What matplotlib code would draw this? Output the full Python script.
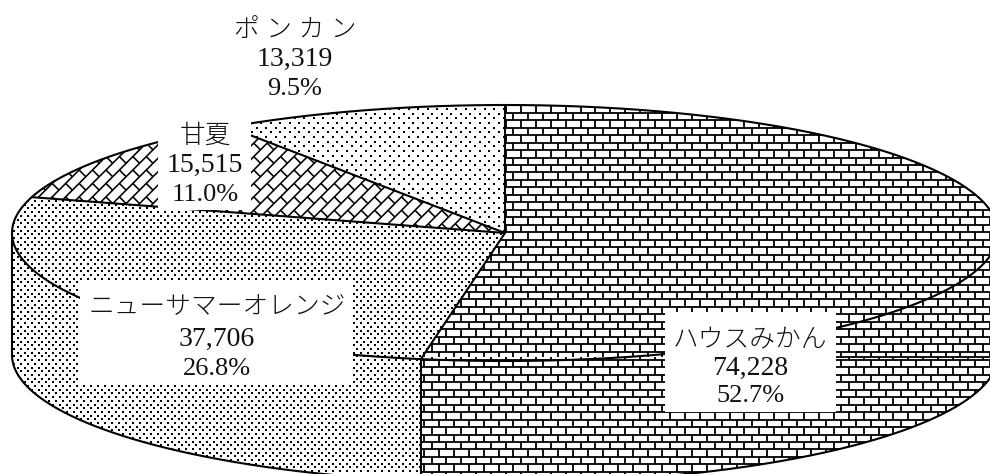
import numpy as np
import matplotlib
matplotlib.use("Agg")
import matplotlib.pyplot as plt
from matplotlib.patches import Polygon, Rectangle
from matplotlib.collections import LineCollection

# ---- data ----
categories = ["ハウスみかん", "ニューサマーオレンジ", "甘夏", "ポンカン"]
values = [74228, 37706, 15515, 13319]
percent_labels = ["52.7%", "26.8%", "11.0%", "9.5%"]
value_labels = ["74,228", "37,706", "15,515", "13,319"]
name_labels = ["ハウスみかん", "ニューサマーオレンジ", "甘夏", "ポ ン カ ン"]

# ---- layout (pixel-based axes) ----
W, H = 990, 474
CX, CY, RX, RY, DEPTH = 505.0, 233.0, 493.0, 128.0, 122.0
label_boxes = [(665, 312, 171, 100), (80, 281, 273, 104), (158, 112, 93, 98), None]
label_centers = [(750, (340, 368, 396)), (217, (307, 339, 369)),
                 (205, (136, 165, 195)), (295, (30, 59, 89))]
SPLIT_Y = 356.7

plt.rcParams["font.family"] = ["Liberation Serif", "Noto Sans CJK JP"]
fig = plt.figure(figsize=(W / 100, H / 100), dpi=100, facecolor="white")
ax = fig.add_axes([0, 0, 1, 1])
ax.set_xlim(0, W)
ax.set_ylim(H, 0)
ax.axis("off")

shares = np.array(values, dtype=float) / sum(values) * 360.0
edges = np.concatenate([[0.0], np.cumsum(shares)])


def arc(a0, a1, dy=0.0, n=200):
    t = np.radians(np.linspace(a0, a1, n))
    return np.column_stack([CX + RX * np.sin(t), CY - RY * np.cos(t) + dy])


def clip_poly(pts):
    p = Polygon(pts, closed=True, facecolor="none", edgecolor="none")
    ax.add_patch(p)
    return p


def bricks(clip, y0, ymin, ymax, bw, bh, phase_x, lw=1.3):
    segs = []
    for k in range(int(np.ceil((ymax - y0) / bh)) + 1):
        ya, yb = y0 + k * bh, y0 + (k + 1) * bh
        if ya >= ymax or yb <= ymin:
            continue
        if ya >= ymin:
            segs.append([(0, ya), (W, ya)])
        off = phase_x + (k % 2) * bw / 2
        for x in np.arange(off % bw - bw, W + bw, bw):
            segs.append([(x, max(ya, ymin)), (x, min(yb, ymax))])
    lc = LineCollection(segs, colors="black", linewidths=lw, zorder=2, capstyle="butt")
    ax.add_collection(lc)
    lc.set_clip_path(clip)


def diag_bricks(clip, row=9.5, length=19.0, lw=1.15):
    u = np.array([1, -1]) / np.sqrt(2)
    v = np.array([1, 1]) / np.sqrt(2)
    segs = []
    for k in range(-30, 60):
        base = np.array([200.0, 170.0]) + k * row * v
        segs.append([tuple(base - 900 * u), tuple(base + 900 * u)])
        for m in range(-50, 50):
            s = base + (m + 0.5 * (k % 2)) * length * u
            segs.append([tuple(s), tuple(s + row * v)])
    lc = LineCollection(segs, colors="black", linewidths=lw, zorder=2, capstyle="butt")
    ax.add_collection(lc)
    lc.set_clip_path(clip)


def dots(clip, dx, dy, size=3.0):
    ys = np.arange(90, H + dy, dy)
    xs, yy = [], []
    for k, y in enumerate(ys):
        x = np.arange(0, W + dx, dx) + (k % 2) * dx / 2
        xs.append(x)
        yy.append(np.full_like(x, y))
    sc = ax.scatter(np.concatenate(xs), np.concatenate(yy), s=size, c="black",
                    marker="s", linewidths=0, zorder=2)
    sc.set_clip_path(clip)


centre = (CX, CY)
a = edges
junction = arc(a[1], a[1], n=1)[0]

# house: top wedge + visible side wall
house_region = np.vstack([[centre], arc(a[0], 90), arc(90, a[1], DEPTH), [junction]])
clip = clip_poly(house_region)
bricks(clip, 90.32, 0, SPLIT_Y, 14.9, 7.47, 506.0)
bricks(clip, 352.36, SPLIT_Y, H + 10, 14.9, 7.47, 506.0)

# new summer orange: top wedge + side wall
orange_region = np.vstack([[centre], [junction], arc(a[1], 270, DEPTH), arc(270, a[2])])
dots(clip_poly(orange_region), 7.0, 3.7)

# amanatsu: top wedge only
diag_bricks(clip_poly(np.vstack([[centre], arc(a[2], a[3])])))

# ponkan: top wedge only
dots(clip_poly(np.vstack([[centre], arc(a[3], a[4])])), 9.5, 4.7)

# outlines
outline = dict(color="black", lw=1.5, zorder=3, solid_capstyle="round")
for ang in a[:-1]:
    p = arc(ang, ang, n=1)[0]
    ax.plot([CX, p[0]], [CY, p[1]], **outline)
rim = arc(0, 360, n=800)
ax.plot(rim[:, 0], rim[:, 1], **outline)
low = arc(90, 270, DEPTH, n=400)
ax.plot(low[:, 0], low[:, 1], **outline)
left = arc(270, 270, n=1)[0]
ax.plot([left[0], left[0]], [left[1], left[1] + DEPTH], **outline)
ax.plot([junction[0], junction[0]], [junction[1], junction[1] + DEPTH], **outline)
ax.plot([W, 836], [SPLIT_Y, SPLIT_Y], color="black", lw=1.3, zorder=3)

# labels
for box, (cx, rows), name, val, pct in zip(label_boxes, label_centers, name_labels,
                                           value_labels, percent_labels):
    if box is not None:
        ax.add_patch(Rectangle((box[0], box[1]), box[2], box[3], facecolor="white",
                               edgecolor="none", zorder=4))
    ax.text(cx, rows[0], name, ha="center", va="center", fontsize=18.5,
            fontweight="light", color="#111111", zorder=5)
    ax.text(cx, rows[1], val, ha="center", va="center", fontsize=20, color="#111111", zorder=5)
    ax.text(cx, rows[2], pct, ha="center", va="center", fontsize=19, color="#111111", zorder=5)

fig.savefig("out.png", dpi=100, facecolor="white")
